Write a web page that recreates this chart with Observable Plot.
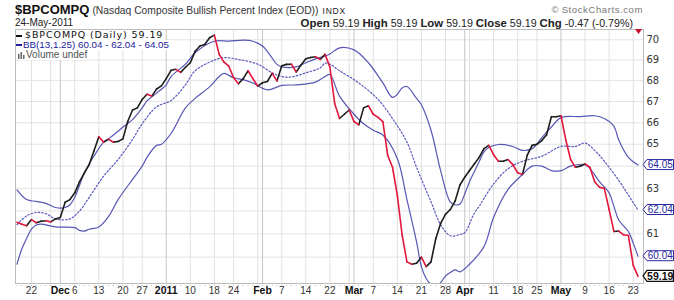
<!DOCTYPE html>
<html><head><meta charset="utf-8">
<script src="https://cdn.jsdelivr.net/npm/d3@7"></script>
<script src="https://cdn.jsdelivr.net/npm/@observablehq/plot@0.6"></script>
<style>
body{margin:0;background:#fff;}
#wrap{position:relative;width:674px;height:300px;overflow:hidden;font-family:"Liberation Sans",Arial,sans-serif;background:#fff;}
#wrap svg.plot, #wrap > svg{position:absolute;left:0;top:0;}
.t{position:absolute;white-space:nowrap;line-height:1;}
.lg{position:absolute;white-space:nowrap;background:#fff;line-height:10px;height:10px;}
</style></head><body><div id="wrap"></div>
<script>
// Trading days (x positions are trading-day indices, as on StockCharts)
const days = [
"2010-11-17","2010-11-18","2010-11-19","2010-11-22","2010-11-23","2010-11-24","2010-11-26","2010-11-29","2010-11-30",
"2010-12-01","2010-12-02","2010-12-03","2010-12-06","2010-12-07","2010-12-08","2010-12-09","2010-12-10","2010-12-13","2010-12-14","2010-12-15","2010-12-16","2010-12-17","2010-12-20","2010-12-21","2010-12-22","2010-12-23","2010-12-27","2010-12-28","2010-12-29","2010-12-30","2010-12-31",
"2011-01-03","2011-01-04","2011-01-05","2011-01-06","2011-01-07","2011-01-10","2011-01-11","2011-01-12","2011-01-13","2011-01-14","2011-01-18","2011-01-19","2011-01-20","2011-01-21","2011-01-24","2011-01-25","2011-01-26","2011-01-27","2011-01-28","2011-01-31",
"2011-02-01","2011-02-02","2011-02-03","2011-02-04","2011-02-07","2011-02-08","2011-02-09","2011-02-10","2011-02-11","2011-02-14","2011-02-15","2011-02-16","2011-02-17","2011-02-18","2011-02-22","2011-02-23","2011-02-24","2011-02-25","2011-02-28",
"2011-03-01","2011-03-02","2011-03-03","2011-03-04","2011-03-07","2011-03-08","2011-03-09","2011-03-10","2011-03-11","2011-03-14","2011-03-15","2011-03-16","2011-03-17","2011-03-18","2011-03-21","2011-03-22","2011-03-23","2011-03-24","2011-03-25","2011-03-28","2011-03-29","2011-03-30","2011-03-31",
"2011-04-01","2011-04-04","2011-04-05","2011-04-06","2011-04-07","2011-04-08","2011-04-11","2011-04-12","2011-04-13","2011-04-14","2011-04-15","2011-04-18","2011-04-19","2011-04-20","2011-04-21","2011-04-25","2011-04-26","2011-04-27","2011-04-28","2011-04-29",
"2011-05-02","2011-05-03","2011-05-04","2011-05-05","2011-05-06","2011-05-09","2011-05-10","2011-05-11","2011-05-12","2011-05-13","2011-05-16","2011-05-17","2011-05-18","2011-05-19","2011-05-20","2011-05-23","2011-05-24"];

// Daily close of $BPCOMPQ, one per trading day
const close = [
61.5,61.42,61.35,61.62,61.48,61.55,61.57,61.52,61.65,
61.71,62.38,62.5,62.8,63.3,63.7,64.07,64.7,65.35,65.1,65.23,65.1,65.13,65.25,66.06,66.6,66.7,67.1,67.35,67.26,67.6,67.75,
68.1,68.5,68.55,68.4,68.65,68.87,69.43,69.69,69.77,70.1,70.23,69.28,68.9,68.7,68.14,67.85,68.1,68.48,68.1,67.74,
67.9,67.96,68.35,67.99,68.72,68.79,68.8,68.42,68.76,69.06,69.13,69.16,69.03,69.28,68.65,66.9,66.2,66.4,66.6,
66.06,65.9,66.7,66.8,66.4,66.25,66.05,64.5,63.95,62.7,60.95,59.8,59.7,59.74,60.0,59.6,59.8,60.8,61.45,61.85,62.06,62.43,63.15,
63.5,63.8,64.1,64.4,64.8,64.95,64.52,64.22,64.22,64.3,64.07,63.7,63.62,64.5,64.95,65.0,65.17,65.43,66.28,66.28,
66.33,65.2,64.3,63.95,64.0,64.1,63.95,63.3,63.05,63.0,62.06,61.1,61.12,60.96,60.93,59.66,59.19];

// Bollinger Bands BB(13,1.25), read at selected trading-day indices
const upperAt = [0,2,4,6,8,10,11,12,14,16,18,19,21,22,24,26,27,29,31,32,35,37,41,44,47,49,51,53,54,55,58,60,62,64,65,67,70,73,76,78,79,80,81,83,84,86,88,90,91,92,93,94,95,96,97,98,100,103,105,107,109,111,113,117,120,122,124,125,127,129];
const upperBB = [62.93,62.5,62.42,62.33,62.15,62.15,62.27,62.6,63.69,64.46,65.1,65.25,65.6,65.8,66.15,66.7,67.03,67.4,67.8,68.2,68.8,69.36,69.93,69.93,69.98,69.93,69.69,69.1,68.79,68.67,68.67,68.87,69.06,69.2,69.3,69.6,69.5,68.87,67.89,67.2,67.35,67.65,67.72,67.15,66.85,65.65,63.8,62.4,62.27,62.3,62.75,63.3,63.75,64.2,64.65,64.85,64.99,64.9,64.72,64.8,65.3,65.8,66.24,66.29,66.33,66.2,65.83,65.2,64.4,64.05];
const midAt = [0,2,4,6,8,11,13,15,18,21,24,26,29,32,35,37,41,43,46,50,53,55,57,60,63,64,65,67,71,75,78,81,83,86,88,90,92,93,95,96,97,99,102,105,109,113,116,118,120,122,125,127,129];
const midBB = [61.4,61.78,61.93,61.88,61.65,61.65,62.0,62.6,63.55,64.3,65.22,65.95,66.75,67.05,67.8,68.48,69.0,69.12,69.03,68.8,68.38,68.2,68.18,68.38,68.62,68.85,68.8,68.48,67.89,67.1,66.2,65.1,63.95,62.4,61.4,60.92,60.97,61.05,61.9,62.2,62.55,63.2,63.88,64.22,64.45,64.9,64.9,65.06,64.72,64.22,63.36,62.7,62.04];
const lowerAt = [0,1,2,3,4,5,8,12,13,14,15,17,19,21,24,26,27,29,30,32,35,37,40,42,43,45,47,49,52,55,58,62,64,65,67,70,72,74,76,79,81,83,84,85,86,87,88,89,90,91,92,94,97,99,102,105,107,109,111,113,115,118,119,121,123,124,125,127,128,129];
const lowerBB = [59.7,60.35,60.8,61.2,61.38,61.42,61.3,61.27,61.15,61.12,61.2,61.3,61.75,62.5,63.4,64.0,64.4,64.95,65.0,65.5,66.7,67.15,67.7,68.2,68.35,68.14,68.05,67.89,67.56,67.77,67.8,67.93,68.2,68.3,67.26,66.4,65.95,65.65,65.43,64.35,62.5,60.65,59.6,59.1,58.85,58.75,58.92,59.2,59.35,59.46,59.38,59.7,60.45,61.71,62.95,63.62,64.0,64.0,63.8,63.8,64.0,64.07,63.9,63.3,62.8,62.2,61.6,61.1,60.6,60.04];

// Axis ticks and labels
const yGrid = [60,61,62,63,64,65,66,67,68,69,70];
const yLabels = [61,63,65,66,67,68,69,70];
const weekLabelDays = ["2010-11-22","2010-12-06","2010-12-13","2010-12-20","2010-12-27","2011-01-10","2011-01-18","2011-01-24","2011-02-07","2011-02-14","2011-02-22","2011-03-07","2011-03-14","2011-03-21","2011-03-28","2011-04-11","2011-04-18","2011-04-25","2011-05-09","2011-05-16","2011-05-23"];
const weekLabels = ["22","6","13","20","27","10","18","24","7","14","22","7","14","21","28","11","18","25","9","16","23"];
const weekGridExtra = ["2010-11-29","2011-01-31","2011-02-28","2011-04-04"];
const monthDays = ["2010-12-01","2011-01-03","2011-02-01","2011-03-01","2011-04-01","2011-05-02"];
const monthLabels = ["Dec","2011","Feb","Mar","Apr","May"];

// Latest values
const lastClose = 59.19;
const lastBB = [60.04, 62.04, 64.05];
const lastQuote = {open: "59.19", high: "59.19", low: "59.19", close: "59.19", chg: "-0.47", pct: "-0.79%"};

const idx = d => days.indexOf(d);
const closeIdx = d3.range(close.length);
const segs = d3.range(1, close.length);
const RED = "#e2173d", BLACK = "#1e1e1e", BLUE = "#3a3aa8";

const plot = Plot.plot({
  width: 674, height: 300,
  marginLeft: 15, marginRight: 31, marginTop: 29, marginBottom: 17,
  x: {domain: [-0.31, 130.14], axis: null},
  y: {type: "log", domain: [58.889, 70.513], axis: null},
  style: {fontFamily: "Liberation Sans, Arial, sans-serif", background: "white", overflow: "visible"},
  marks: [
    Plot.ruleY(yGrid, {stroke: "#e3e3e3", strokeWidth: 1}),
    Plot.ruleX([...weekLabelDays, ...weekGridExtra], {x: idx, stroke: "#e0e0e0", strokeWidth: 1}),
    Plot.ruleX(monthDays, {x: idx, stroke: "#c6c6c6", strokeWidth: 1}),
    Plot.frame({stroke: "#bcbcbc"}),
    Plot.dot(closeIdx, {x: d => d, frameAnchor: "bottom", dy: 2, r: 0.5, fill: "#aaa", stroke: null}),
    Plot.line(upperAt, {x: d => d, y: (d, i) => upperBB[i], curve: "catmull-rom", stroke: BLUE, strokeWidth: 1.2, strokeOpacity: 0.85, clip: true}),
    Plot.line(midAt, {x: d => d, y: (d, i) => midBB[i], curve: "catmull-rom", stroke: "#4848b8", strokeWidth: 1.2, strokeDasharray: "1.6,2", strokeOpacity: 0.9, clip: true}),
    Plot.line(lowerAt, {x: d => d, y: (d, i) => lowerBB[i], curve: "catmull-rom", stroke: BLUE, strokeWidth: 1.2, strokeOpacity: 0.85, clip: true}),
    Plot.link(segs.filter(i => close[i] >= close[i-1]), {x1: i => i - 1, y1: i => close[i-1], x2: i => i, y2: i => close[i], stroke: BLACK, strokeWidth: 1.6, strokeLinecap: "round"}),
    Plot.link(segs.filter(i => close[i] < close[i-1]), {x1: i => i - 1, y1: i => close[i-1], x2: i => i, y2: i => close[i], stroke: RED, strokeWidth: 1.6, strokeLinecap: "round"}),
    Plot.text(yLabels, {y: d => d, text: d => String(d), frameAnchor: "right", textAnchor: "start", dx: 3, fontSize: 10, fontFamily: "DejaVu Sans, sans-serif", fill: "#333"}),
    Plot.text(weekLabelDays, {x: idx, text: (d, i) => weekLabels[i], frameAnchor: "bottom", dy: 10, fontSize: 10, fill: "#333"}),
    Plot.text(monthDays, {x: idx, text: (d, i) => monthLabels[i], frameAnchor: "bottom", dy: 10, fontSize: 10.5, fontWeight: "bold", fill: "#111"})
  ]
});

const wrap = document.getElementById("wrap");
wrap.appendChild(plot);

// value tags on the right, positioned through Plot's y scale
const ys = plot.scale("y");
const svg = d3.select(plot);
function tag(v, color, bold) {
  const y = ys.apply(v), x0 = 643, x1 = 673.5, h = bold ? 5.5 : 5;
  const g = svg.append("g");
  g.append("path")
    .attr("d", `M${x0},${y} L${x0 + 4},${y - h} L${x1},${y - h} L${x1},${y + h} L${x0 + 4},${y + h} Z`)
    .attr("fill", "#fff").attr("stroke", color).attr("stroke-width", bold ? 1.3 : 1);
  g.append("text").attr("x", (x0 + 4 + x1) / 2).attr("y", y).attr("dy", "0.36em")
    .attr("text-anchor", "middle").attr("fill", color)
    .attr("font-size", bold ? 10.5 : 10).attr("font-weight", bold ? "bold" : "normal")
    .attr("font-family", "Liberation Sans, Arial, sans-serif").text(v.toFixed(2));
}
tag(lastBB[2], "#2a2aa0", false);
tag(lastBB[1], "#2a2aa0", false);
tag(lastBB[0], "#2a2aa0", false);
tag(lastClose, "#111", true);

// header texts
function add(html, style, cls = "t") {
  const d = document.createElement("div");
  d.className = cls; d.innerHTML = html; d.setAttribute("style", style);
  wrap.appendChild(d);
  return d;
}
add(`<span style="font-size:13px;font-weight:bold;color:#111">$BPCOMPQ</span><span style="font-size:10.3px;color:#333;margin-left:3px">(Nasdaq Composite Bullish Percent Index (EOD))</span><span style="font-size:8.5px;color:#222;margin-left:4px;letter-spacing:0.8px">INDX</span>`,
    "left:15px;top:2px;height:14px;line-height:14px;");
add(`24-May-2011`, "left:15px;top:18px;font-size:10px;color:#222;");
add(`<b style="font-size:11.4px">Open</b> ${lastQuote.open} <b style="font-size:11.4px">High</b> ${lastQuote.high} <b style="font-size:11.4px">Low</b> ${lastQuote.low} <b style="font-size:11.4px">Close</b> ${lastQuote.close} <b style="font-size:11.4px">Chg</b> ${lastQuote.chg} (${lastQuote.pct})`,
    "right:41px;top:17.5px;font-size:10.7px;color:#222;");
add(`<svg width="7" height="5"><path d="M0,0 L7,0 L3.5,5 Z" fill="#c0102a"/></svg>`, "left:635px;top:21px;");
add(`&copy;&thinsp;StockCharts.com`, "right:31px;top:5px;font-size:9.5px;color:#777;letter-spacing:0.6px;");

// legend lines (white backgrounds over the grid)
add(`<span style="display:inline-block;width:6px;height:2px;background:#111;vertical-align:middle;margin-right:3px"></span>$BPCOMPQ (Daily) ${lastClose.toFixed(2)}`,
    "left:16px;top:30px;font-family:'DejaVu Sans',sans-serif;font-size:9.5px;letter-spacing:0.9px;color:#111;padding-right:2px;", "lg");
add(`<span style="display:inline-block;width:6px;height:2px;background:#1c1c9c;vertical-align:middle;margin-right:1px"></span>BB(13,1.25) ${lastBB[0].toFixed(2)} - ${lastBB[1].toFixed(2)} - ${lastBB[2].toFixed(2)}`,
    "left:16px;top:40px;font-size:9.8px;color:#1c1c9c;padding-right:2px;", "lg");
add(`<svg width="7" height="7" style="vertical-align:-1px;margin-right:1px"><rect x="0" y="2" width="1.5" height="5" fill="#666"/><rect x="2.5" y="0" width="1.5" height="7" fill="#666"/><rect x="5" y="3" width="1.5" height="4" fill="#666"/></svg>Volume undef`,
    "left:18px;top:50px;font-size:10px;color:#555;padding-right:2px;", "lg");
</script>
</body></html>
